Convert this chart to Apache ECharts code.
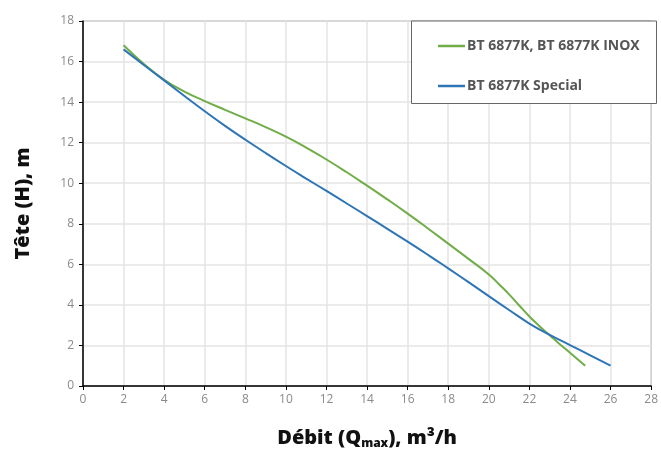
<!DOCTYPE html>
<html><head><meta charset="utf-8">
<script src="https://cdn.jsdelivr.net/npm/echarts@6/dist/echarts.min.js"></script>
<style>html,body{margin:0;padding:0;background:#fff}#c{width:661px;height:455px}</style>
</head><body><div id="c"></div>
<script>
const seriesNames = ['BT 6877K, BT 6877K INOX', 'BT 6877K Special'];
const greenX = [2, 3, 4, 5, 6, 7, 8, 9, 10, 11, 12, 13, 14, 15, 16, 17, 18, 19, 20, 20.5, 21, 21.5, 22, 22.5, 23, 23.5, 24, 24.75];
const greenY = [16.8, 15.88, 15.1, 14.52, 14.05, 13.62, 13.2, 12.77, 12.3, 11.76, 11.17, 10.54, 9.88, 9.2, 8.5, 7.77, 7.02, 6.27, 5.5, 5.02, 4.52, 3.97, 3.43, 2.95, 2.5, 2.06, 1.64, 1.0];
const blueX = [2, 3, 4, 5, 6, 7, 8, 9, 10, 11, 12, 13, 14, 15, 16, 17, 18, 19, 20, 21, 22, 23, 24, 25, 26];
const blueY = [16.6, 15.83, 15.07, 14.3, 13.55, 12.83, 12.15, 11.49, 10.85, 10.23, 9.62, 9.0, 8.38, 7.75, 7.12, 6.47, 5.8, 5.12, 4.43, 3.75, 3.08, 2.52, 2.02, 1.51, 1.0];
const xTicks = [0, 28, 2];
const yTicks = [0, 18, 2];

const toPairs = (xs, ys) => xs.map((x, i) => [x, ys[i]]);
const chart = echarts.init(document.getElementById('c'), null, {renderer: 'canvas'});
chart.setOption({
  animation: false,
  backgroundColor: '#fff',
  grid: {left: 83, right: 4.5, top: 21, bottom: 63, show: true, borderColor: '#666', borderWidth: 1, backgroundColor: 'transparent'},
  xAxis: {
    type: 'value', min: xTicks[0], max: xTicks[1], interval: xTicks[2],
    axisLine: {show: true, lineStyle: {color: '#000', width: 1.5}},
    axisTick: {show: true, length: 4, lineStyle: {color: '#000'}},
    axisLabel: {color: '#8a8a8a', fontSize: 12, fontFamily: 'Open Sans', margin: 8, showMaxLabel: true},
    splitLine: {show: true, lineStyle: {color: '#e4e4e4', width: 1.5}},
    name: '{a|Débit (Q}{s|max}{a|), m³/h}', nameLocation: 'middle', nameGap: 40,
    nameTextStyle: {rich: {
      a: {fontFamily: 'Open Sans', fontWeight: 800, fontSize: 20, color: '#111'},
      s: {fontFamily: 'Open Sans', fontWeight: 800, fontSize: 12, color: '#111', verticalAlign: 'bottom', padding: [12, 0, 0, 0]}
    }}
  },
  yAxis: {
    type: 'value', min: yTicks[0], max: yTicks[1], interval: yTicks[2],
    axisLine: {show: true, lineStyle: {color: '#000', width: 1.5}},
    axisTick: {show: true, length: 4, lineStyle: {color: '#000'}},
    axisLabel: {color: '#8a8a8a', fontSize: 12, fontFamily: 'Open Sans', margin: 9},
    splitLine: {show: true, lineStyle: {color: '#e4e4e4', width: 1.5}},
    name: 'Tête (H), m', nameLocation: 'middle', nameGap: 50, nameRotate: 90,
    nameTextStyle: {fontFamily: 'Open Sans', fontWeight: 800, fontSize: 20, color: '#111'}
  },
  graphic: [{
    type: 'rect', left: 411, top: 20.5, z: 5,
    shape: {width: 245, height: 82.5},
    style: {fill: '#fff', stroke: '#666', lineWidth: 1}
  }],
  legend: {
    orient: 'vertical', left: 433, top: 34, z: 10, itemGap: 26,
    itemWidth: 27, itemHeight: 14, icon: 'path://M0,6 L27,6 L27,8.5 L0,8.5 Z',
    textStyle: {fontFamily: 'Open Sans', fontWeight: 'bold', fontSize: 14, color: '#555', padding: [0, 0, 0, -3]},
    data: seriesNames
  },
  series: [
    {name: seriesNames[0], type: 'line', smooth: 0.5, symbol: 'none', data: toPairs(greenX, greenY), lineStyle: {color: '#70ad47', width: 2}, itemStyle: {color: '#70ad47'}},
    {name: seriesNames[1], type: 'line', smooth: 0.5, symbol: 'none', data: toPairs(blueX, blueY), lineStyle: {color: '#2e75b6', width: 2}, itemStyle: {color: '#2e75b6'}}
  ]
});
</script></body></html>
